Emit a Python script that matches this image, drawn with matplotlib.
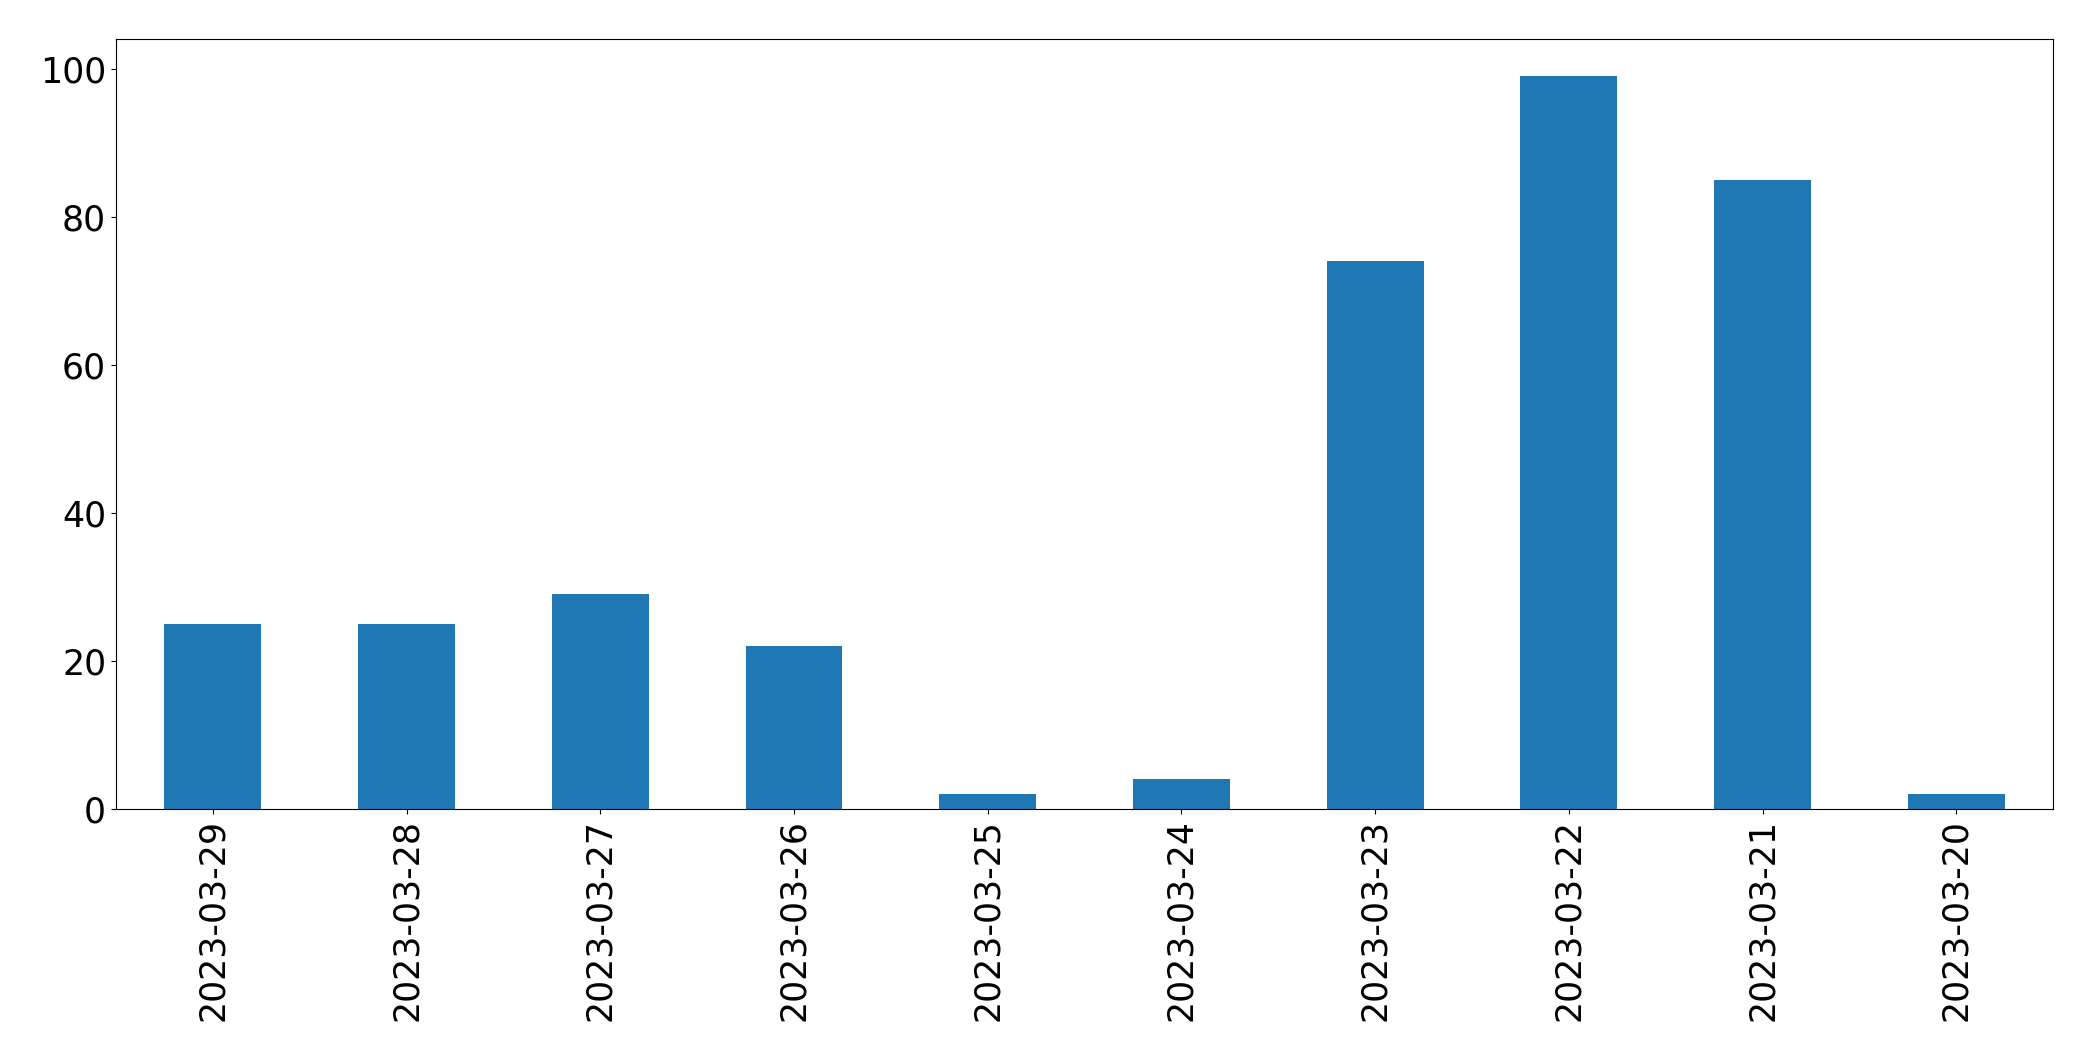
import matplotlib
matplotlib.use("Agg")
import matplotlib.pyplot as plt
import pandas as pd

# daily counts, newest first (as in the reference)
dates = ["2023-03-29", "2023-03-28", "2023-03-27", "2023-03-26", "2023-03-25",
         "2023-03-24", "2023-03-23", "2023-03-22", "2023-03-21", "2023-03-20"]
counts = [25, 25, 29, 22, 2, 4, 74, 99, 85, 2]

s = pd.Series(counts, index=dates)

fig = plt.figure(figsize=(20.93, 10.61), dpi=100)
ax = fig.add_axes([0.0554, 0.2375, 0.9256, 0.7255])
s.plot.bar(ax=ax, color="#1f77b4", width=0.5)
ax.tick_params(axis="both", labelsize=25)
ax.set_xlabel("")

fig.savefig("out.png", dpi=100)
